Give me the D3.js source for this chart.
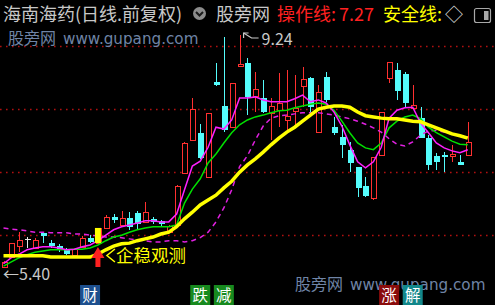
<!DOCTYPE html>
<html><head><meta charset="utf-8">
<script src="https://cdn.jsdelivr.net/npm/d3@7/dist/d3.min.js"></script>
<style>html,body{margin:0;padding:0;background:#000;overflow:hidden}</style>
</head><body><svg id="c" width="495" height="305"></svg>
<script>
// ---- data (prices) ----
const opens  = [5.42,5.58,5.76,5.88,5.73,5.98,5.81,5.76,5.70,5.62, 5.75,5.90,5.81,6.06,6.24,6.11,6.22,6.31,6.16,6.21, 6.18,5.99,6.11,6.97,7.51,7.63,6.90,8.47,8.07,7.72, 8.73,8.78,8.24,8.20,7.96,8.00,7.84,7.99,8.40,8.53, 7.64,8.55,7.72,7.56,7.35,7.07,6.75,6.55,7.26,8.53, 8.66,8.60,8.04,7.87,7.54,7.25,7.26,7.25,7.15,7.26];
const highs  = [5.52,5.82,6.00,5.91,5.90,5.99,5.86,5.80,5.73,5.71, 5.93,5.94,6.06,6.27,6.29,6.34,6.32,6.34,6.49,6.24, 6.19,6.11,6.77,7.48,8.20,7.77,7.96,8.78,9.21,8.45, 9.24,8.86,8.63,8.50,8.20,8.61,8.66,8.58,8.71,8.55, 8.42,8.63,7.89,7.76,7.48,7.07,6.90,7.23,7.97,8.80, 8.78,8.63,8.42,8.05,7.59,7.30,7.31,7.43,7.26,7.81];
const lows   = [5.40,5.57,5.66,5.73,5.71,5.81,5.73,5.66,5.62,5.60, 5.73,5.81,5.81,6.04,6.14,6.09,6.03,6.04,6.14,6.13, 6.09,5.98,6.09,6.95,7.49,7.20,6.88,8.40,7.64,7.71, 8.71,7.92,7.97,7.96,7.51,7.72,7.68,7.72,8.05,7.89, 7.63,8.14,7.59,7.21,6.98,6.57,6.57,6.52,7.25,8.45, 8.17,8.05,8.04,7.54,7.02,7.02,6.98,7.15,7.10,7.26];
const closes = [5.50,5.81,5.86,5.88,5.86,5.93,5.76,5.70,5.63,5.71, 5.90,5.83,6.06,6.24,6.19,6.22,6.08,6.13,6.32,6.16, 6.13,6.09,6.75,7.46,8.02,7.21,7.96,8.42,7.68,8.45, 8.76,8.22,8.35,7.97,8.07,8.12,7.91,8.04,8.52,8.05, 8.30,8.17,7.63,7.43,7.13,6.72,6.59,7.23,7.97,8.80, 8.32,8.12,8.09,7.54,7.10,7.15,7.23,7.28,7.10,7.48];

const shortLine = [5.47,5.57,5.63,5.70,5.73,5.75,5.75,5.73,5.70,5.71, 5.75,5.78,5.85,5.94,6.03,6.08,6.11,6.14,6.18,6.18, 6.16,6.16,6.29,6.69,7.08,7.16,7.39,7.72,7.69,7.84, 8.20,8.20,8.22,8.17,8.14,8.14,8.14,8.19,8.25,8.14, 8.17,8.12,7.97,7.74,7.43,7.15,7.05,7.15,7.39,7.87, 8.00,8.04,8.05,7.79,7.63,7.46,7.38,7.33,7.30,7.35];
const midLine   = [5.43,5.50,5.57,5.62,5.66,5.68,5.70,5.70,5.70,5.71, 5.71,5.73,5.78,5.85,5.91,5.94,5.99,6.03,6.06,6.08, 6.08,6.08,6.11,6.47,6.70,6.87,7.13,7.28,7.46,7.63, 7.76,7.84,7.89,7.92,7.96,7.99,8.00,8.04,8.07,8.10, 8.12,8.10,8.00,7.82,7.63,7.46,7.38,7.35,7.46,7.71, 7.82,7.89,7.92,7.86,7.72,7.63,7.56,7.49,7.44,7.43];
const safeLine  = [5.60,5.60,5.60,5.60,5.60,5.60,5.58,5.58,5.58,5.58, 5.58,5.58,5.63,5.70,5.76,5.80,5.81,5.85,5.88,5.91, 5.96,5.99,6.08,6.21,6.32,6.44,6.52,6.60,6.72,6.83, 6.98,7.10,7.20,7.31,7.43,7.54,7.64,7.72,7.82,7.92, 8.02,8.05,8.07,8.07,8.05,7.97,7.91,7.89,7.87,7.86, 7.86,7.84,7.82,7.81,7.76,7.71,7.66,7.61,7.58,7.54];
const dashLine  = [6.06,6.04,6.03,6.01,5.99,5.99,5.98,5.98,5.98,5.96, 5.96,5.94,5.93,5.91,5.91,5.90,5.88,5.86,5.85,5.83, 5.83,5.85,5.85,5.83,5.85,5.90,5.99,6.16,6.39,6.69, 7.07,7.25,7.51,7.74,7.87,7.91,7.92,7.94,7.96,7.96, 7.96,7.94,7.92,7.89,7.86,7.82,7.77,7.71,7.64,7.53, 7.44,7.41,7.48,7.59,7.66,7.67,7.64,7.61,7.58,7.56];

const gridPrices = [9.06, 8.02, 6.98, 5.94];
const signalIdx = [12];
const opLineValue = "7.27";
const tagTexts  = ["财", "跌", "减", "涨", "解"];
const tagIdx    = [11, 25, 28, 49, 52];
const tagColors = ["#1d4f8e", "#178a1e", "#178a1e", "#8a0c0c", "#12878a"];

// ---- drawing ----
const svg = d3.select("#c");
svg.append("rect").attr("width",495).attr("height",305).attr("fill","#000");
const n = closes.length;
const x = d3.scalePoint().domain(d3.range(n)).range([3.5, 467.8]);
const y = d3.scaleLinear().domain([5.40, 9.24]).range([268, 35]);
const FONT = "'Noto Sans CJK SC','Noto Sans',sans-serif";

// grid
svg.append("g").selectAll("line").data(gridPrices).join("line")
  .attr("x1",0).attr("x2",495)
  .attr("y1",d=>Math.round(y(d))+0.5).attr("y2",d=>Math.round(y(d))+0.5)
  .attr("stroke","#b01010").attr("stroke-width",1.6).attr("stroke-dasharray","1.6,4.4");

// watermarks
function watermark(x0, yb){
  const t = svg.append("text").attr("x",x0).attr("y",yb).attr("fill","#6f84a6");
  t.append("tspan").attr("font-family",FONT).attr("font-size",16).text("股旁网");
  t.append("tspan").attr("dx",7).attr("font-family","'DejaVu Sans',sans-serif").attr("font-size",15.2).text("www.gupang.com");
}
watermark(8, 44);
watermark(295, 290);

// candles
const RED="#ff3030", CYAN="#54fcfc";
const cg = svg.append("g").attr("shape-rendering","crispEdges");
d3.range(n).forEach(i=>{
  const cx = Math.round(x(i))+0.5;
  const o=opens[i], c=closes[i], h=highs[i], l=lows[i];
  const top = Math.round(y(Math.max(o,c))), bot = Math.round(y(Math.min(o,c)));
  if (c>o){
    cg.append("line").attr("x1",cx).attr("x2",cx).attr("y1",y(h)).attr("y2",top).attr("stroke",RED);
    cg.append("line").attr("x1",cx).attr("x2",cx).attr("y1",bot).attr("y2",y(l)).attr("stroke",RED);
    cg.append("rect").attr("x",cx-2.5).attr("y",top+0.5).attr("width",5).attr("height",Math.max(1,bot-top))
      .attr("fill","#000").attr("stroke",RED);
  } else if (c<o){
    cg.append("line").attr("x1",cx).attr("x2",cx).attr("y1",y(h)).attr("y2",y(l)).attr("stroke",CYAN);
    cg.append("rect").attr("x",cx-3).attr("y",top).attr("width",6).attr("height",Math.max(1,bot-top))
      .attr("fill",CYAN);
  } else {
    cg.append("line").attr("x1",cx).attr("x2",cx).attr("y1",y(h)).attr("y2",y(l)).attr("stroke","#e8e8e8");
    cg.append("line").attr("x1",cx-3).attr("x2",cx+3).attr("y1",top+0.5).attr("y2",top+0.5).attr("stroke","#e8e8e8");
  }
});

// lines
const line = arr => d3.line().x((d,i)=>x(i)).y(d=>y(d))(arr);
svg.append("path").attr("d",line(dashLine)).attr("fill","none").attr("stroke","#e020e0").attr("stroke-width",1.5).attr("stroke-dasharray","5,4");
svg.append("path").attr("d",line(midLine)).attr("fill","none").attr("stroke","#00e000").attr("stroke-width",1.5);
svg.append("path").attr("d",line(shortLine)).attr("fill","none").attr("stroke","#ff20ff").attr("stroke-width",1.5);
svg.append("path").attr("d",line(safeLine)).attr("fill","none").attr("stroke","#ffff00").attr("stroke-width",3.5);

// signal bar + arrow + label
signalIdx.forEach(i=>{
  const cx = x(i);
  svg.append("rect").attr("x",cx-3).attr("y",y(closes[i])).attr("width",6)
    .attr("height",y(opens[i])-y(closes[i])).attr("fill","#ffff00");
  svg.append("path").attr("d",`M${cx-6.5},258 L${cx},247 L${cx+6.5},258 L${cx+2.5},258 L${cx+2.5},267 L${cx-2.5},267 L${cx-2.5},258 Z`)
    .attr("fill","#ff2020");
  svg.append("path").attr("d",`M${cx+17},249 L${cx+9},255.5 L${cx+17},262`).attr("fill","none")
    .attr("stroke","#ffff00").attr("stroke-width",1.5);
  svg.append("text").attr("x",cx+18).attr("y",262).attr("font-family",FONT).attr("font-size",17.5)
    .attr("fill","#ffff00").text("企稳观测");
});

// high / low labels
const hi = d3.maxIndex(highs), lo = d3.minIndex(lows);
const hx = x(hi), hy = y(highs[hi]);
svg.append("path").attr("d",`M${hx+4},${hy-2} L${hx+12},${hy+3} L${hx+19},${hy+3}`).attr("fill","none").attr("stroke","#c8c8c8").attr("stroke-width",1.2);
svg.append("path").attr("d",`M${hx+4},${hy+3} L${hx+4},${hy-2} L${hx+9},${hy-2}`).attr("fill","none").attr("stroke","#c8c8c8").attr("stroke-width",1.2);
svg.append("text").attr("x",hx+22).attr("y",hy+10).attr("font-family",FONT).attr("font-size",16)
  .attr("fill","#c8c8c8").text(highs[hi].toFixed(2));
svg.append("text").attr("x",x(lo)-0.5).attr("y",y(lows[lo])+12).attr("font-family",FONT).attr("font-size",16)
  .attr("fill","#c8c8c8").text("←"+lows[lo].toFixed(2));

// header
const hdr = svg.append("g").attr("font-family",FONT).attr("font-size",18);
hdr.append("text").attr("x",3).attr("y",21).attr("fill","#c8c8c8").text("海南海药(日线.前复权)");
hdr.append("circle").attr("cx",199.5).attr("cy",13.5).attr("r",6.5).attr("fill","#8c8c8c");
hdr.append("path").attr("d","M196,12 L199.5,15.5 L203,12").attr("fill","none").attr("stroke","#1a1a1a").attr("stroke-width",2);
hdr.append("text").attr("x",216).attr("y",21).attr("fill","#c8c8c8").text("股旁网");
hdr.append("text").attr("x",277).attr("y",21).attr("fill","#ff2020").text("操作线:");
hdr.append("text").attr("x",339).attr("y",21).attr("fill","#ff2020").text(opLineValue);
hdr.append("text").attr("x",383).attr("y",21).attr("fill","#ffff00").text("安全线:");
hdr.append("text").attr("x",445).attr("y",21).attr("fill","#d8d8d8").text("◇");
hdr.append("rect").attr("x",474.5).attr("y",8.5).attr("width",16).attr("height",14).attr("rx",2)
  .attr("fill","none").attr("stroke","#a8a8a8").attr("stroke-width",1.2);
hdr.append("rect").attr("x",484).attr("y",11).attr("width",4.5).attr("height",9).attr("fill","#a8a8a8");

// bottom tags
const tg = svg.append("g");
tagTexts.forEach((t,k)=>{
  const cx = x(tagIdx[k]);
  tg.append("rect").attr("x",cx-10).attr("y",285).attr("width",20).attr("height",20).attr("fill",tagColors[k]);
  tg.append("text").attr("x",cx).attr("y",300.5).attr("text-anchor","middle").attr("font-family",FONT)
    .attr("font-size",15.5).attr("fill","#ffffff").text(t);
});
</script></body></html>
